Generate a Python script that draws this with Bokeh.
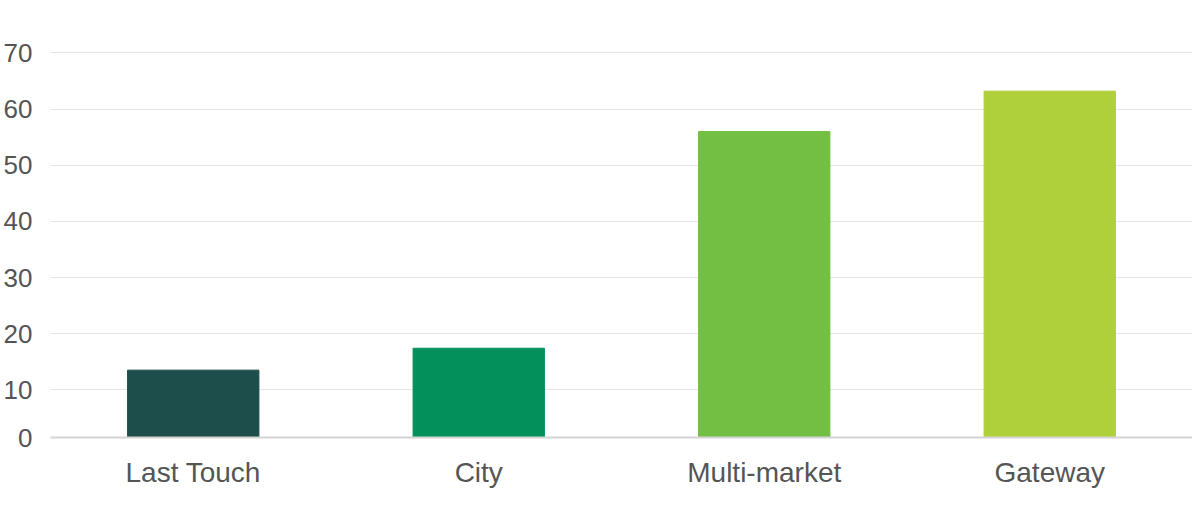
from bokeh.plotting import figure
from bokeh.models import Range1d, FixedTicker, ColumnDataSource
from bokeh.embed import file_html
from bokeh.resources import INLINE

categories = ["Last Touch", "City", "Multi-market", "Gateway"]
values = [13.5, 17.4, 56.0, 63.2]
colors = ["#1d4e4b", "#03905a", "#72bf44", "#b0d03b"]
y_ticks = [1.5, 10, 20, 30, 40, 50, 60, 70]
y_tick_labels = {1.5: "0", 10: "10", 20: "20", 30: "30", 40: "40", 50: "50", 60: "60", 70: "70"}

src = ColumnDataSource(dict(cat=categories, val=values, color=colors))

p = figure(x_range=categories, y_range=Range1d(1.5, 74), width=1192, height=496,
           output_backend="svg", toolbar_location=None,
           min_border_left=50, min_border_right=0, min_border_top=30, min_border_bottom=59)
p.vbar(x="cat", top="val", bottom=0, width=0.46, color="color", source=src)

p.outline_line_color = None
p.xgrid.grid_line_color = None
p.ygrid.grid_line_color = "#e6e6e6"
p.ygrid.grid_line_width = 1
p.yaxis.ticker = FixedTicker(ticks=y_ticks)
p.yaxis.major_label_overrides = y_tick_labels
p.yaxis.axis_line_color = None
p.yaxis.major_tick_line_color = None
p.yaxis.minor_tick_line_color = None
p.yaxis.major_label_standoff = 12
p.xaxis.major_tick_line_color = None
p.xaxis.axis_line_color = "#d4d4d4"
p.xaxis.axis_line_width = 2
p.xaxis.major_label_standoff = 13
for ax in (p.xaxis, p.yaxis):
    ax.major_label_text_font = "Liberation Sans"
    ax.major_label_text_color = "#555555"
p.xaxis.major_label_text_font_size = "28px"
p.yaxis.major_label_text_font_size = "26px"

open("out.html", "w").write(file_html(p, INLINE))
